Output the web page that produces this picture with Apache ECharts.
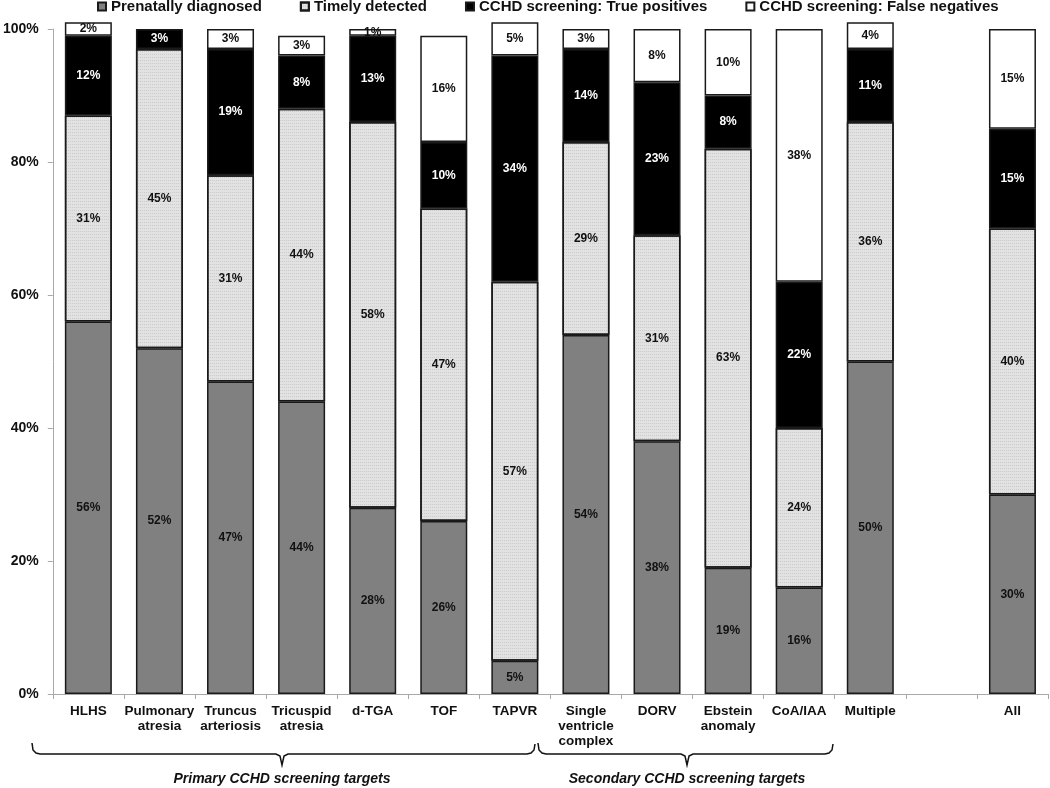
<!DOCTYPE html>
<html>
<head>
<meta charset="utf-8">
<script src="https://cdn.jsdelivr.net/npm/echarts@6/dist/echarts.min.js"></script>
<style>
  html, body { margin: 0; padding: 0; background: #fff; }
  #chart { width: 1050px; height: 788px; }
</style>
</head>
<body>
<div id="chart"></div>
<script>
// categories (blank slot between Multiple and All)
const categories = [
  "HLHS", "Pulmonary\natresia", "Truncus\narteriosis", "Tricuspid\natresia",
  "d-TGA", "TOF", "TAPVR", "Single\nventricle\ncomplex", "DORV",
  "Ebstein\nanomaly", "CoA/IAA", "Multiple", "", "All"
];

// percentages per group, bottom to top
const prenatal      = [56, 52, 47, 44, 28, 26, 5, 54, 38, 19, 16, 50, "-", 30];
const timely        = [31, 45, 31, 44, 58, 47, 57, 29, 31, 63, 24, 36, "-", 40];
const truePositive  = [12, 3, 19, 8, 13, 10, 34, 14, 23, 8, 22, 11, "-", 15];
const falseNegative = [2, "-", 3, 3, 1, 16, 5, 3, 8, 10, 38, 4, "-", 15];

const seriesNames = [
  "Prenatally diagnosed",
  "Timely detected",
  "CCHD screening: True positives",
  "CCHD screening: False negatives"
];

const font = "'Liberation Sans', Arial, sans-serif";
const chart = echarts.init(document.getElementById("chart"));

// one bar series in the stack
function makeSeries(name, data, fill, textColor, decal) {
  const s = {
    name: name,
    type: "bar",
    stack: "total",
    data: data,
    barWidth: 47,
    clip: false,
    itemStyle: { color: fill, borderColor: "#1a1a1a", borderWidth: 1.5 },
    label: {
      show: true,
      position: "inside",
      formatter: "{c}%",
      color: textColor,
      fontFamily: font,
      fontWeight: "bold",
      fontSize: 12
    },
    emphasis: { disabled: true },
    animation: false
  };
  if (decal) s.itemStyle.decal = decal;
  return s;
}

// curly brace under a group of categories
function brace(x1, xm, x2) {
  return {
    type: "polyline",
    shape: {
      points: [
        [x1, 743], [x1 + 1, 750], [x1 + 4, 753], [x1 + 8, 754],
        [xm - 6, 754], [xm - 2, 756], [xm, 765], [xm + 2, 756], [xm + 6, 754],
        [x2 - 8, 754], [x2 - 4, 753], [x2 - 1, 750], [x2, 744]
      ]
    },
    style: { fill: null, stroke: "#111", lineWidth: 1.5 }
  };
}

function braceText(x, txt) {
  return {
    type: "text",
    x: x, y: 779,
    style: {
      text: txt,
      fontFamily: font, fontStyle: "italic", fontWeight: "bold", fontSize: 14,
      fill: "#111", align: "center", verticalAlign: "middle"
    }
  };
}

// fine dotted texture on the "timely detected" segments
const dots = {
  symbol: "rect",
  symbolSize: 1,
  dashArrayX: [1, 1],
  dashArrayY: [1, 2],
  color: "rgba(0,0,0,0.10)"
};

const option = {
  backgroundColor: "#fff",
  legend: {
    data: seriesNames,
    left: 97,
    top: -1,
    padding: 0,
    itemGap: 38,
    icon: "rect",
    itemWidth: 8,
    itemHeight: 8,
    selectedMode: false,
    textStyle: { fontFamily: font, fontWeight: "bold", fontSize: 15, color: "#111" }
  },
  grid: { left: 50, right: 2, top: 29, bottom: 94, containLabel: false },
  xAxis: {
    type: "category",
    data: categories,
    axisLine: { lineStyle: { color: "#a8a8a8", width: 1 } },
    axisTick: { show: true, length: 5, lineStyle: { color: "#a8a8a8" } },
    axisLabel: {
      interval: 0,
      margin: 10,
      color: "#111",
      fontFamily: font,
      fontWeight: "bold",
      fontSize: 13.5,
      lineHeight: 15
    }
  },
  yAxis: {
    type: "value",
    min: 0,
    max: 100,
    interval: 20,
    splitLine: { show: false },
    axisLine: { show: true, lineStyle: { color: "#a8a8a8", width: 1 } },
    axisTick: { show: true, length: 5, lineStyle: { color: "#a8a8a8" } },
    axisLabel: {
      formatter: "{value}%",
      margin: 14,
      color: "#111",
      fontFamily: font,
      fontWeight: "bold",
      fontSize: 14
    }
  },
  series: [
    makeSeries(seriesNames[0], prenatal, "#808080", "#111"),
    makeSeries(seriesNames[1], timely, "#e2e2e2", "#111", dots),
    makeSeries(seriesNames[2], truePositive, "#000000", "#fff"),
    makeSeries(seriesNames[3], falseNegative, "#ffffff", "#111")
  ],
  graphic: [
    brace(32, 282, 535),
    brace(538, 687, 833),
    braceText(282, "Primary CCHD screening targets"),
    braceText(687, "Secondary CCHD screening targets")
  ]
};

chart.setOption(option);
</script>
</body>
</html>
